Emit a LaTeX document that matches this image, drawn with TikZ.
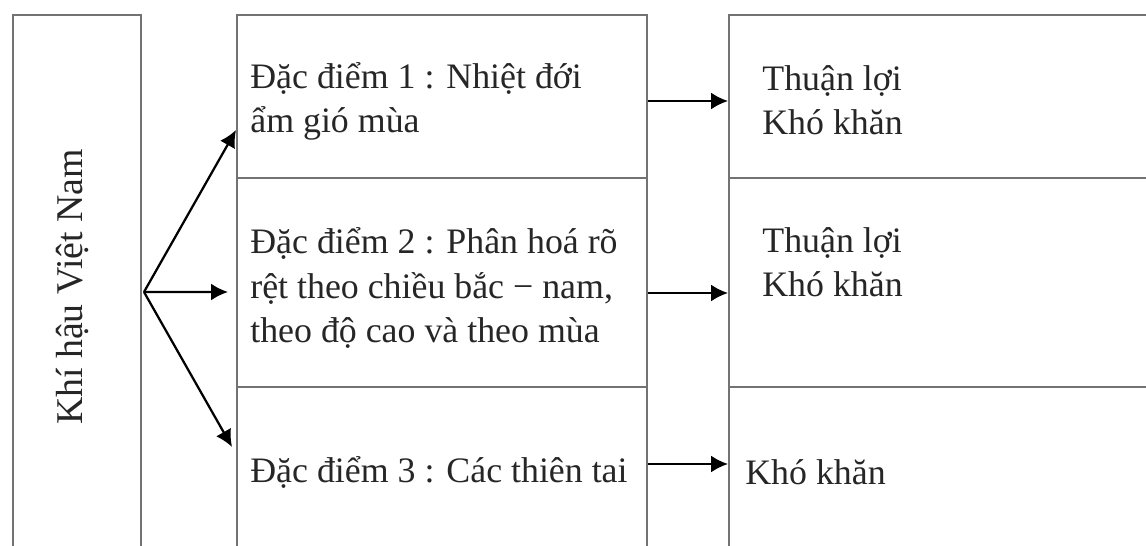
\documentclass[tikz,border=0pt]{standalone}
\usepackage{fontspec}
\setmainfont{Liberation Serif}
\usetikzlibrary{arrows.meta}

\begin{document}
\begin{tikzpicture}[x=0.02cm, y=-0.02cm,
    cell/.style={rectangle, draw=gray!90!black, line width=0.04cm, inner sep=0},
    txt/.style={inner sep=0, align=left, font=\fontsize{20.4}{25.5}\selectfont, text=black!85},
    arr/.style={-{Latex[length=0.34cm, width=0.34cm]}, line width=0.045cm}]
  \useasboundingbox (0,0) rectangle (1146,546);
  \clip (0,0) rectangle (1146,546);

  % Left box
  \node[cell, minimum width=2.56cm, minimum height=10.9cm] (khi) at (77, 287.5) {};
  \node[txt, rotate=90, font=\fontsize{21.5}{26}\selectfont] (khit) at (72, 287) {Khí hậu Việt Nam};

  % Middle column
  \node[cell, minimum width=8.2cm, minimum height=3.26cm] (dd1) at (442, 96.5) {};
  \node[cell, minimum width=8.2cm, minimum height=4.18cm] (dd2) at (442, 282.5) {};
  \node[cell, minimum width=8.2cm, minimum height=3.46cm] (dd3) at (442, 473.5) {};

  \node[txt, anchor=base west] (dd1t) at (250, 133) {Đặc điểm 1 : Nhiệt đới\\ẩm gió mùa};
  \node[txt, anchor=base west] (dd2t) at (250, 343) {Đặc điểm 2 : Phân hoá rõ\\rệt theo chiều bắc − nam,\\theo độ cao và theo mùa};
  \node[txt, anchor=base west] (dd3t) at (250, 483) {Đặc điểm 3 : Các thiên tai};

  % Right column
  \node[cell, minimum width=8.62cm, minimum height=3.26cm] (tl1) at (944.5, 96.5) {};
  \node[cell, minimum width=8.62cm, minimum height=4.18cm] (tl2) at (944.5, 282.5) {};
  \node[cell, minimum width=8.62cm, minimum height=3.46cm] (tl3) at (944.5, 473.5) {};

  \node[txt, anchor=base west] (tl1t) at (762, 135) {Thuận lợi\\Khó khăn};
  \node[txt, anchor=base west] (tl2t) at (762, 297) {Thuận lợi\\Khó khăn};
  \node[txt, anchor=base west] (tl3t) at (745, 485) {Khó khăn};

  % Arrows
  \coordinate (hub) at ([xshift=0.04cm, yshift=-0.09cm]khi.east);
  \draw[arr] (hub) -- ([yshift=-0.67cm]dd1.west);
  \draw[arr] (hub) -- ([xshift=-0.16cm, yshift=-0.19cm]dd2.west);
  \draw[arr] (hub) -- ([xshift=-0.08cm, yshift=0.53cm]dd3.west);

  \draw[arr] ([yshift=-0.09cm]dd1.east) -- ([yshift=-0.09cm]tl1.west);
  \draw[arr] ([yshift=-0.21cm]dd2.east) -- ([yshift=-0.21cm]tl2.west);
  \draw[arr] ([yshift=0.19cm]dd3.east) -- ([yshift=0.19cm]tl3.west);
\end{tikzpicture}
\end{document}
